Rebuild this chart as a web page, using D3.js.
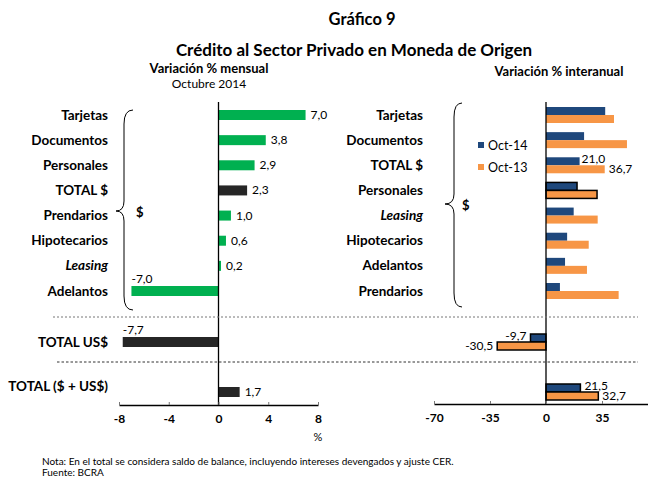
<!DOCTYPE html>
<html><head><meta charset="utf-8">
<script src="https://cdn.jsdelivr.net/npm/d3@7"></script>
<style>
body{margin:0;background:#fff;}
svg{font-family:Lato,"Open Sans",sans-serif;}
</style></head>
<body><svg id="c" width="648" height="477"></svg>
<script>
// ---- data ----
const leftCats = ["Tarjetas","Documentos","Personales","TOTAL $","Prendarios","Hipotecarios","Leasing","Adelantos"];
const leftVals = [7.0, 3.8, 2.9, 2.3, 1.0, 0.6, 0.2, -7.0];
const leftTotalsCats = ["TOTAL US$","TOTAL ($ + US$)"];
const leftTotalsVals = [-7.7, 1.7];

const rightCats = ["Tarjetas","Documentos","TOTAL $","Personales","Leasing","Hipotecarios","Adelantos","Prendarios"];
const oct14 = [37.0, 23.8, 21.0, 19.4, 17.3, 13.2, 11.9, 8.7];
const oct13 = [42.5, 50.6, 36.7, 31.9, 32.3, 26.7, 25.6, 45.4];
const rightLabelRow = 2;        // row carrying the printed values
const rightOutlineRow = 3;      // row drawn with outline
const totUS14 = -9.7, totUS13 = -30.5;
const totAll14 = 21.5, totAll13 = 32.7;

const leftTicks = [-8,-4,0,4,8];
const rightTicks = [-70,-35,0,35];
const seriesNames = ["Oct-14","Oct-13"];

const GREEN="#00b050", DARK="#262626", NAVY="#1f487c", ORANGE="#f79646";
const loc = d3.formatLocale({decimal:",",thousands:".",grouping:[3],currency:["$",""],minus:"-"});
const fmt = loc.format(".1f");
const fmtInt = loc.format("d");

const svg = d3.select("#c");

// ---- titles ----
svg.append("text").attr("x",362).attr("y",25).attr("text-anchor","middle")
  .attr("font-weight","bold").attr("font-size",16.5).text("Gráfico 9");
svg.append("text").attr("x",354).attr("y",56).attr("text-anchor","middle")
  .attr("font-weight","bold").attr("font-size",17).text("Crédito al Sector Privado en Moneda de Origen");
svg.append("text").attr("x",209).attr("y",73).attr("text-anchor","middle")
  .attr("font-weight","bold").attr("font-size",13).text("Variación % mensual");
svg.append("text").attr("x",209).attr("y",88).attr("text-anchor","middle")
  .attr("font-size",12).text("Octubre 2014");
svg.append("text").attr("x",559).attr("y",76).attr("text-anchor","middle")
  .attr("font-weight","bold").attr("font-size",13).text("Variación % interanual");

// ---- scales ----
const xL = d3.scaleLinear().domain([-8,8]).range([119,318]);
const yL = d3.scalePoint().domain(leftCats).range([115,291]);
const yTot = d3.scalePoint().domain(leftTotalsCats).range([342,392]);
const xR = d3.scaleLinear().domain([-70,70]).range([434,658]);
const yR = d3.scalePoint().domain(rightCats).range([115,291]);

// ---- left panel ----
const bh = 10;
const gL = svg.append("g");
gL.selectAll("rect.b").data(leftCats).join("rect")
  .attr("x",(d,i)=>Math.min(xL(0),xL(leftVals[i])))
  .attr("y",d=>yL(d)-bh/2).attr("height",bh)
  .attr("width",(d,i)=>Math.abs(xL(leftVals[i])-xL(0)))
  .attr("fill",d=>d==="TOTAL $"?DARK:GREEN);
gL.selectAll("text.v").data(leftCats).join("text")
  .attr("font-size",12)
  .attr("x",(d,i)=>leftVals[i]>=0? xL(leftVals[i])+5 : xL(leftVals[i]))
  .attr("y",(d,i)=>leftVals[i]>=0? yL(d)+4 : yL(d)-bh/2-3)
  .text((d,i)=>fmt(leftVals[i]));
gL.selectAll("text.c").data(leftCats).join("text")
  .attr("x",108).attr("y",d=>yL(d)+4.5).attr("text-anchor","end")
  .attr("font-weight","bold").attr("font-size",13.5)
  .attr("font-style",d=>d==="Leasing"?"italic":"normal").text(d=>d);

gL.selectAll("rect.t").data(leftTotalsCats).join("rect")
  .attr("x",(d,i)=>Math.min(xL(0),xL(leftTotalsVals[i])))
  .attr("y",d=>yTot(d)-bh/2).attr("height",bh)
  .attr("width",(d,i)=>Math.abs(xL(leftTotalsVals[i])-xL(0)))
  .attr("fill",DARK);
gL.selectAll("text.tv").data(leftTotalsCats).join("text")
  .attr("font-size",12)
  .attr("x",(d,i)=>leftTotalsVals[i]>=0? xL(leftTotalsVals[i])+5 : xL(leftTotalsVals[i]))
  .attr("y",(d,i)=>leftTotalsVals[i]>=0? yTot(d)+4 : yTot(d)-bh/2-3)
  .text((d,i)=>fmt(leftTotalsVals[i]));
gL.selectAll("text.tc").data(leftTotalsCats).join("text")
  .attr("x",108).attr("y",(d,i)=>i===0?yTot(d)+4.5:yTot(d)-1)
  .attr("text-anchor","end").attr("font-weight","bold").attr("font-size",13.5).text(d=>d);

// zero line
gL.append("line").attr("x1",xL(0)).attr("x2",xL(0)).attr("y1",102).attr("y2",405)
  .attr("stroke","#000").attr("stroke-width",1.3);
// axis
const axL = gL.append("g").attr("transform","translate(0,405)")
  .call(d3.axisBottom(xL).tickValues(leftTicks).tickSizeInner(-3).tickSizeOuter(0).tickPadding(9).tickFormat(fmtInt));
axL.select(".domain").attr("stroke-width",1.3);
axL.selectAll(".tick line").attr("stroke","#777");
axL.selectAll("text").attr("font-weight","bold").attr("font-size",12).attr("font-family","Lato,sans-serif");
gL.append("text").attr("x",xL(8)).attr("y",441).attr("text-anchor","middle").attr("font-size",11).text("%");

// braces
function brace(g,xTop,xMid,xTip,yTop,yMid,yBot){
  const p = `M${xTop},${yTop} Q${xMid},${yTop} ${xMid},${yTop+14} L${xMid},${yMid-10} Q${xMid},${yMid} ${xTip},${yMid} Q${xMid},${yMid} ${xMid},${yMid+10} L${xMid},${yBot-14} Q${xMid},${yBot} ${xTop},${yBot}`;
  g.append("path").attr("d",p).attr("fill","none").attr("stroke","#000").attr("stroke-width",1);
}
brace(svg,133,124,116,110,211,310);
svg.append("text").attr("x",136).attr("y",217).attr("font-weight","bold").attr("font-size",13).text("$");
brace(svg,462,454,445,103,204,307);
svg.append("text").attr("x",462).attr("y",210).attr("font-weight","bold").attr("font-size",13).text("$");

// ---- right panel ----
const rh = 8;
const gR = svg.append("g");
const rowsR = rightCats.map((c,i)=>({c,i,a:oct14[i],b:oct13[i]}));
gR.selectAll("rect.n").data(rowsR).join("rect")
  .attr("x",d=>xR(0)).attr("y",d=>yR(d.c)-rh).attr("height",rh)
  .attr("width",d=>xR(d.a)-xR(0)).attr("fill",NAVY)
  .attr("stroke",d=>d.i===rightOutlineRow?"#000":"none").attr("stroke-width",1.5);
gR.selectAll("rect.o").data(rowsR).join("rect")
  .attr("x",d=>xR(0)).attr("y",d=>yR(d.c)).attr("height",rh)
  .attr("width",d=>xR(d.b)-xR(0)).attr("fill",ORANGE)
  .attr("stroke",d=>d.i===rightOutlineRow?"#000":"none").attr("stroke-width",1.5);
gR.selectAll("text.c").data(rightCats).join("text")
  .attr("x",423).attr("y",d=>yR(d)+4.5).attr("text-anchor","end")
  .attr("font-weight","bold").attr("font-size",13.5)
  .attr("font-style",d=>d==="Leasing"?"italic":"normal").text(d=>d);
const lr = rowsR[rightLabelRow];
gR.append("text").attr("x",xR(lr.a)+2).attr("y",yR(lr.c)-2).attr("font-size",12).text(fmt(lr.a));
gR.append("text").attr("x",xR(lr.b)+4).attr("y",yR(lr.c)+8).attr("font-size",12).text(fmt(lr.b));

// totals right
const tots = [{y:yTot("TOTAL US$"),a:totUS14,b:totUS13},{y:yTot("TOTAL ($ + US$)"),a:totAll14,b:totAll13}];
tots.forEach(t=>{
  gR.append("rect").attr("x",Math.min(xR(0),xR(t.a))).attr("y",t.y-rh).attr("height",rh)
    .attr("width",Math.abs(xR(t.a)-xR(0))).attr("fill",NAVY).attr("stroke","#000").attr("stroke-width",1.5);
  gR.append("rect").attr("x",Math.min(xR(0),xR(t.b))).attr("y",t.y).attr("height",rh)
    .attr("width",Math.abs(xR(t.b)-xR(0))).attr("fill",ORANGE).attr("stroke","#000").attr("stroke-width",1.5);
  const neg = t.a<0;
  gR.append("text").attr("x",neg?xR(t.a)-4:xR(t.a)+4).attr("y",t.y-2)
    .attr("text-anchor",neg?"end":"start").attr("font-size",12).text(fmt(t.a));
  gR.append("text").attr("x",neg?xR(t.b)-4:xR(t.b)+4).attr("y",t.y+8)
    .attr("text-anchor",neg?"end":"start").attr("font-size",12).text(fmt(t.b));
});

gR.append("line").attr("x1",xR(0)).attr("x2",xR(0)).attr("y1",102).attr("y2",404)
  .attr("stroke","#000").attr("stroke-width",1.3);
const axR = gR.append("g").attr("transform","translate(0,404)")
  .call(d3.axisBottom(xR).tickValues(rightTicks).tickSizeInner(-3).tickSizeOuter(0).tickPadding(9).tickFormat(fmtInt));
axR.select(".domain").attr("stroke-width",1.3);
axR.selectAll(".tick line").attr("stroke","#777");
axR.selectAll("text").attr("font-weight","bold").attr("font-size",12).attr("font-family","Lato,sans-serif");

// legend
const leg = svg.append("g");
[NAVY,ORANGE].forEach((c,i)=>{
  leg.append("rect").attr("x",478).attr("y",142+22*i).attr("width",6).attr("height",6).attr("fill",c);
  leg.append("text").attr("x",488).attr("y",149.5+22*i).attr("font-size",12.5).text(seriesNames[i]);
});

// separators
svg.append("line").attr("x1",53).attr("x2",638).attr("y1",317).attr("y2",317)
  .attr("stroke","#777").attr("stroke-width",1).attr("stroke-dasharray","2,2");
svg.append("line").attr("x1",57).attr("x2",638).attr("y1",362).attr("y2",362)
  .attr("stroke","#333").attr("stroke-width",1).attr("stroke-dasharray","2.5,2");

// notes
svg.append("text").attr("x",42).attr("y",465).attr("font-size",10)
  .text("Nota: En el total se considera saldo de balance, incluyendo intereses devengados y ajuste CER.");
svg.append("text").attr("x",42).attr("y",476).attr("font-size",10).text("Fuente: BCRA");
</script></body></html>
